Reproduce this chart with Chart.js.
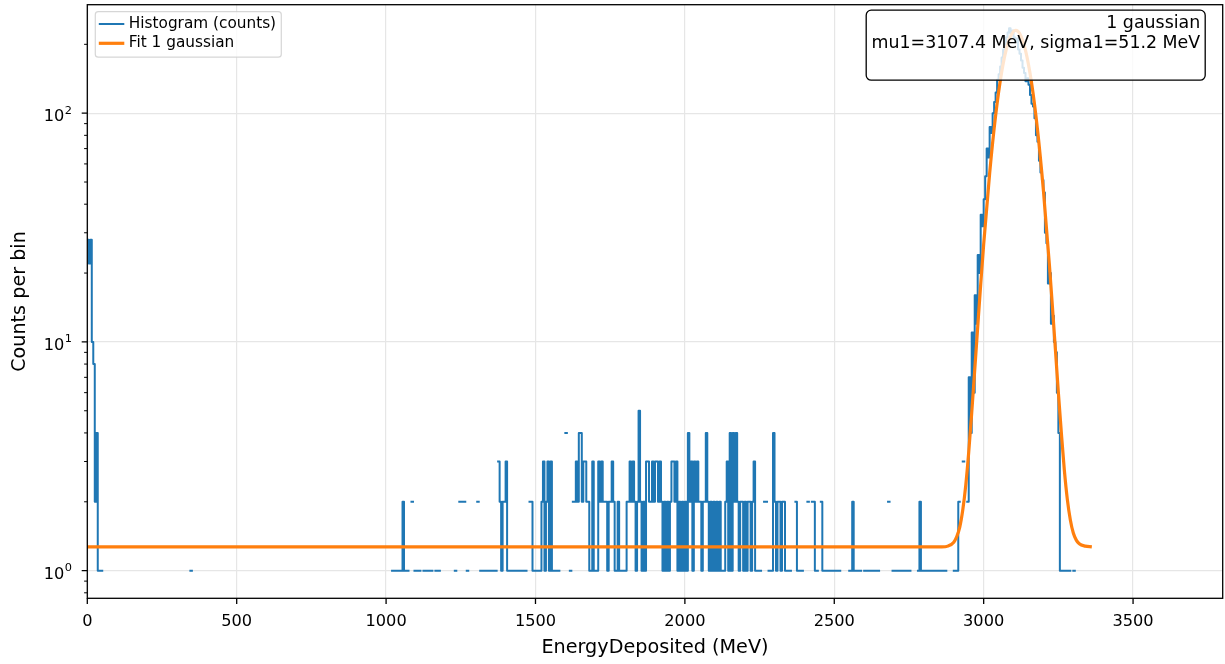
<!DOCTYPE html>
<html>
<head>
<meta charset="utf-8">
<script src="https://cdn.jsdelivr.net/npm/chart.js@4.4.1/dist/chart.umd.min.js"></script>
<style>
  html, body { margin: 0; padding: 0; background: #fff; }
  canvas { display: block; }
</style>
</head>
<body>
<canvas id="chart" width="1225" height="664"></canvas>
<script>
const BIN_W = 5; // MeV per histogram bin

// non-empty bins below the full-energy peak: [left edge (MeV), counts]
const lowBins = [
  [0, 28], [5, 22], [10, 28], [15, 10], [20, 8], [25, 2], [30, 4], [35, 1], [40, 1], [45, 1],
  [345, 1]
];
const midBins = [
  [1020, 1], [1025, 1], [1035, 1], [1040, 1], [1045, 1], [1050, 1], [1055, 2], [1060, 1], [1065, 1], [1070, 1],
  [1085, 2], [1095, 1], [1100, 1], [1105, 1], [1110, 1], [1125, 1], [1130, 1], [1140, 1], [1145, 1], [1150, 1],
  [1165, 1], [1175, 1], [1230, 1], [1245, 2], [1250, 2], [1260, 2], [1270, 1], [1305, 2], [1315, 1], [1320, 1],
  [1325, 1], [1330, 1], [1340, 1], [1345, 1], [1350, 1], [1360, 1], [1365, 1], [1375, 3], [1380, 2], [1385, 1],
  [1390, 2], [1395, 2], [1400, 3], [1405, 1], [1410, 1], [1420, 1], [1425, 1], [1435, 1], [1440, 1], [1445, 1],
  [1450, 1], [1460, 1], [1465, 1], [1480, 2], [1485, 2], [1490, 1], [1495, 1], [1500, 1], [1505, 1], [1510, 1],
  [1515, 1], [1520, 2], [1525, 3], [1530, 1], [1535, 2], [1540, 3], [1545, 1], [1550, 3], [1555, 1], [1560, 1],
  [1565, 1], [1575, 1], [1600, 4], [1615, 1], [1625, 2], [1630, 2], [1635, 3], [1640, 2], [1645, 4], [1650, 4],
  [1655, 2], [1660, 3], [1665, 3], [1670, 2], [1675, 2], [1680, 1], [1685, 1], [1690, 3], [1695, 1], [1700, 1],
  [1705, 1], [1710, 3], [1715, 2], [1720, 3], [1725, 2], [1730, 2], [1735, 2], [1740, 1], [1745, 2], [1750, 2],
  [1755, 3], [1760, 2], [1765, 1], [1770, 1], [1775, 2], [1780, 1], [1785, 1], [1790, 1], [1795, 1], [1800, 1],
  [1805, 2], [1810, 2], [1815, 3], [1820, 2], [1825, 3], [1830, 2], [1835, 1], [1840, 2], [1845, 5], [1850, 2],
  [1855, 1], [1860, 2], [1865, 1], [1870, 3], [1875, 3], [1880, 2], [1885, 2], [1890, 3], [1895, 2], [1900, 3],
  [1905, 3], [1910, 2], [1915, 3], [1920, 2], [1925, 1], [1930, 2], [1935, 1], [1940, 2], [1945, 1], [1950, 2],
  [1955, 3], [1960, 3], [1965, 2], [1970, 3], [1975, 1], [1980, 2], [1985, 1], [1990, 2], [1995, 1], [2000, 2],
  [2005, 1], [2010, 4], [2015, 2], [2020, 3], [2025, 1], [2030, 3], [2035, 2], [2040, 3], [2045, 2], [2050, 2],
  [2055, 1], [2060, 2], [2065, 2], [2070, 4], [2075, 2], [2080, 1], [2085, 2], [2090, 1], [2095, 2], [2100, 1],
  [2105, 2], [2110, 1], [2115, 2], [2120, 1], [2125, 1], [2130, 1], [2135, 2], [2140, 3], [2145, 1], [2150, 4],
  [2155, 1], [2160, 4], [2165, 2], [2170, 4], [2175, 2], [2180, 1], [2185, 2], [2190, 2], [2195, 1], [2200, 2],
  [2205, 1], [2210, 2], [2215, 2], [2220, 1], [2225, 2], [2230, 3], [2235, 1], [2240, 1], [2245, 1], [2250, 1],
  [2265, 2], [2270, 2], [2280, 1], [2285, 1], [2290, 1], [2295, 4], [2300, 2], [2305, 1], [2310, 2], [2315, 2],
  [2320, 1], [2325, 2], [2330, 2], [2335, 1], [2340, 1], [2345, 1], [2350, 1], [2370, 2], [2375, 1], [2380, 1],
  [2390, 1], [2410, 2], [2425, 2], [2430, 2], [2435, 1], [2440, 1], [2455, 2], [2460, 1], [2465, 1], [2470, 1],
  [2480, 1], [2490, 1], [2495, 1], [2500, 1], [2510, 1], [2515, 1], [2550, 1], [2555, 1], [2560, 2], [2565, 1],
  [2575, 1], [2580, 1], [2585, 1], [2600, 1], [2610, 1], [2615, 1], [2620, 1], [2625, 1], [2635, 1], [2640, 1],
  [2645, 1], [2680, 2], [2695, 1], [2700, 1], [2710, 1], [2715, 1], [2720, 1], [2725, 1], [2735, 1], [2740, 1],
  [2750, 1], [2780, 1], [2785, 2], [2790, 1], [2795, 1], [2805, 1], [2810, 1], [2815, 1], [2820, 1], [2830, 1],
  [2835, 1], [2845, 1], [2850, 1], [2860, 1], [2870, 1]
];

// consecutive bins over the peak, first bin at PEAK_START (0 = empty bin)
const PEAK_START = 2900;
const peakCounts = [
  1, 1, 1, 2, 0, 0, 3, 0, 0, 2,
  7, 4, 11, 6, 16, 12, 24, 20, 36, 32,
  42, 53, 70, 64, 87, 82, 100, 112, 123, 140,
  148, 160, 175, 190, 200, 215, 225, 235, 222, 230,
  215, 205, 212, 190, 182, 170, 158, 150, 138, 142,
  133, 120, 110, 107, 95, 80, 75, 62, 55, 51,
  45, 30, 27, 18, 20, 12, 13, 10, 9, 6,
  4, 1, 1, 1, 0, 1, 0, 1, 0, 0,
  1
];

// fitted curve (constant + one gaussian), sampled along the energy axis
const fitEnergy = [0, 2840, 2860, 2880, 2900, 2910, 2920, 2930, 2940, 2950, 2960, 2970, 2980, 2990, 3000,
  3020, 3040, 3060, 3080, 3100, 3107.4, 3120, 3140, 3160, 3180, 3200, 3220, 3230, 3240, 3250, 3260,
  3270, 3280, 3290, 3300, 3310, 3320, 3340, 3362];
const fitValue = [1.27, 1.27, 1.27, 1.28, 1.33, 1.41, 1.55, 1.84, 2.36, 3.30, 4.90, 7.52, 11.6, 17.8, 26.7,
  54.6, 97.6, 150.5, 199.7, 227.9, 230.3, 223.5, 188.3, 136.4, 85.1, 45.9, 21.7, 14.3, 9.3, 6.0, 4.0,
  2.75, 2.05, 1.67, 1.46, 1.36, 1.31, 1.28, 1.27];

const xTickValues = [0, 500, 1000, 1500, 2000, 2500, 3000, 3500];
const yMajorValues = [1, 10, 100];
const yMajorExponents = ['0', '1', '2'];
const yMinorValues = [0.8, 0.9, 2, 3, 4, 5, 6, 7, 8, 9, 20, 30, 40, 50, 60, 70, 80, 90, 200];

const fitText = ['1 gaussian', 'mu1=3107.4 MeV, sigma1=51.2 MeV'];

// step outline: each bin is a flat segment, empty bins break the line
const bins = [...lowBins, ...midBins];
peakCounts.forEach((n, i) => { if (n > 0) bins.push([PEAK_START + i * BIN_W, n]); });
const histPoints = [];
let prevEnd = null;
for (const [e, n] of bins) {
  if (prevEnd !== null && e !== prevEnd) histPoints.push({ x: (prevEnd + e) / 2, y: null });
  histPoints.push({ x: e, y: n }, { x: e + BIN_W, y: n });
  prevEnd = e + BIN_W;
}
const fitPoints = fitEnergy.map((e, i) => ({ x: e, y: fitValue[i] }));

const FONT = '"DejaVu Sans", sans-serif';
const GRID = '#e6e6e6';
const TICK_PX = 16.2;
Chart.defaults.font.family = FONT;
Chart.defaults.color = '#000';

// tick marks, power-of-ten labels and the box around the axes
const axesFrame = {
  id: 'axesFrame',
  afterDatasetsDraw(chart) {
    const { ctx, chartArea: a, scales: { x, y } } = chart;
    ctx.save();
    ctx.strokeStyle = '#000';
    ctx.lineWidth = 1.3;
    ctx.beginPath();
    xTickValues.forEach(v => {
      const px = x.getPixelForValue(v);
      ctx.moveTo(px, a.bottom);
      ctx.lineTo(px, a.bottom + 5.6);
    });
    yMajorValues.forEach(v => {
      const py = y.getPixelForValue(v);
      ctx.moveTo(a.left, py);
      ctx.lineTo(a.left - 5.6, py);
    });
    ctx.stroke();
    ctx.lineWidth = 1;
    ctx.beginPath();
    yMinorValues.forEach(v => {
      const py = y.getPixelForValue(v);
      ctx.moveTo(a.left, py);
      ctx.lineTo(a.left - 3.2, py);
    });
    ctx.stroke();
    ctx.lineWidth = 1.3;
    ctx.strokeRect(a.left, a.top, a.right - a.left, a.bottom - a.top);

    // "10" with a raised exponent
    ctx.fillStyle = '#000';
    ctx.textAlign = 'left';
    ctx.textBaseline = 'alphabetic';
    const right = a.left - 15.3;
    yMajorValues.forEach((v, i) => {
      const py = y.getPixelForValue(v);
      ctx.font = (TICK_PX * 0.7) + 'px ' + FONT;
      const ws = ctx.measureText(yMajorExponents[i]).width;
      ctx.fillText(yMajorExponents[i], right - ws, py + 0.4);
      ctx.font = TICK_PX + 'px ' + FONT;
      const wb = ctx.measureText('10').width;
      ctx.fillText('10', right - ws - wb - 0.5, py + 7.9);
    });
    ctx.restore();
  }
};

// fit result box, top right
const fitBox = {
  id: 'fitBox',
  afterDraw(chart) {
    const { ctx, chartArea: a } = chart;
    const w = 339, h = 70;
    const right = a.right - 17.5, top = a.top + 5.5;
    ctx.save();
    ctx.beginPath();
    ctx.roundRect(right - w, top, w, h, 5);
    ctx.fillStyle = 'rgba(255,255,255,0.8)';
    ctx.fill();
    ctx.lineWidth = 1.3;
    ctx.strokeStyle = '#000';
    ctx.stroke();
    ctx.fillStyle = '#000';
    ctx.font = '17.4px ' + FONT;
    ctx.textAlign = 'right';
    ctx.textBaseline = 'middle';
    fitText.forEach((t, i) => ctx.fillText(t, right - 5, top + 13.3 + i * 20));
    ctx.restore();
  }
};

// legend, top left
const legendBox = {
  id: 'legendBox',
  afterDraw(chart) {
    const { ctx, chartArea: a } = chart;
    const left = a.left + 8, top = a.top + 7, w = 186, h = 45.5;
    ctx.save();
    ctx.beginPath();
    ctx.roundRect(left, top, w, h, 3);
    ctx.fillStyle = 'rgba(255,255,255,0.8)';
    ctx.fill();
    ctx.strokeStyle = 'rgba(204,204,204,0.8)';
    ctx.lineWidth = 1.2;
    ctx.stroke();
    ctx.font = '15.3px ' + FONT;
    ctx.textBaseline = 'middle';
    ctx.textAlign = 'left';
    chart.data.datasets.forEach((ds, i) => {
      const yy = top + 12.3 + i * 19.3;
      ctx.strokeStyle = ds.borderColor;
      ctx.lineWidth = ds.borderWidth;
      ctx.beginPath();
      ctx.moveTo(left + 3.5, yy);
      ctx.lineTo(left + 29, yy);
      ctx.stroke();
      ctx.fillStyle = '#000';
      ctx.fillText(ds.label, left + 33.5, yy);
    });
    ctx.restore();
  }
};

new Chart(document.getElementById('chart'), {
  type: 'line',
  data: {
    datasets: [
      {
        label: 'Histogram (counts)',
        data: histPoints,
        borderColor: '#1f77b4',
        borderWidth: 2,
        pointRadius: 0,
        tension: 0,
        spanGaps: false,
        borderJoinStyle: 'round',
        borderCapStyle: 'square',
        order: 1
      },
      {
        label: 'Fit 1 gaussian',
        data: fitPoints,
        borderColor: '#ff7f0e',
        borderWidth: 3.2,
        pointRadius: 0,
        cubicInterpolationMode: 'monotone',
        order: 0
      }
    ]
  },
  options: {
    responsive: false,
    animation: false,
    events: [],
    layout: { padding: { top: 4.7, right: 2.3, left: 0, bottom: 0 } },
    plugins: { legend: { display: false }, tooltip: { enabled: false } },
    scales: {
      x: {
        type: 'linear',
        min: 0,
        max: 3800,
        afterBuildTicks: s => { s.ticks = xTickValues.map(v => ({ value: v })); },
        afterFit: s => { s.height = 65.7; s.paddingLeft = 0; s.paddingRight = 0; },
        border: { display: false },
        grid: { color: GRID, lineWidth: 1.2, drawTicks: false },
        ticks: { autoSkip: false, maxRotation: 0, padding: 14, font: { size: TICK_PX }, callback: v => String(v) },
        title: { display: true, text: 'EnergyDeposited (MeV)', font: { size: 19.2 }, padding: { top: 0, bottom: 4.5 } }
      },
      y: {
        type: 'logarithmic',
        min: 0.757,
        max: 298,
        afterBuildTicks: s => {
          s.ticks = [...yMajorValues, ...yMinorValues].sort((p, q) => p - q).map(v => ({ value: v }));
        },
        afterFit: s => { s.width = 87.3; s.paddingTop = 0; s.paddingBottom = 0; },
        border: { display: false },
        grid: {
          drawTicks: false,
          lineWidth: 1.2,
          color: c => (yMajorValues.includes(c.tick.value) ? GRID : 'rgba(0,0,0,0)')
        },
        // labels are drawn by axesFrame
        ticks: { autoSkip: false, padding: 15, font: { size: TICK_PX }, callback: () => '' },
        title: { display: true, text: 'Counts per bin', font: { size: 19.2 }, padding: { top: 8.5, bottom: 0 } }
      }
    }
  },
  plugins: [axesFrame, fitBox, legendBox]
});
</script>
</body>
</html>
